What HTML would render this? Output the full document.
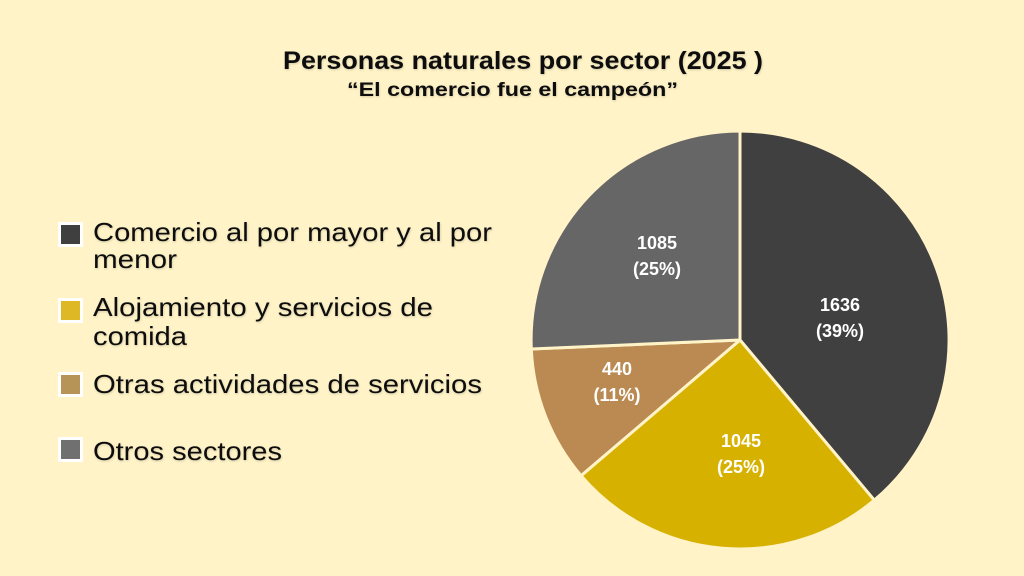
<!DOCTYPE html>
<html>
<head>
<meta charset="utf-8">
<style>
  html,body{margin:0;padding:0;background:#FFF3C7;}
  svg{display:block;}
  .t{font-family:"Liberation Sans",sans-serif;}
</style>
</head>
<body>
<svg width="1024" height="576" viewBox="0 0 1024 576" xmlns="http://www.w3.org/2000/svg">
  <defs>
    <filter id="sh" x="-5%" y="-20%" width="110%" height="140%">
      <feDropShadow dx="0.5" dy="1" stdDeviation="1" flood-color="#000" flood-opacity="0.18"/>
    </filter>
  </defs>
  <rect width="1024" height="576" fill="#FFF3C7"/>

  <!-- Title -->
  <g filter="url(#sh)">
    <text class="t" x="283" y="69" font-size="25" font-weight="bold" fill="#111" textLength="480" lengthAdjust="spacingAndGlyphs">Personas naturales por sector (2025 )</text>
    <text class="t" x="347" y="96" font-size="19" font-weight="bold" fill="#111" textLength="331" lengthAdjust="spacingAndGlyphs">“El comercio fue el campeón”</text>
  </g>

  <!-- Legend -->
  <g>
    <rect x="58" y="222" width="25" height="25" fill="#ffffff"/>
    <rect x="61" y="225" width="19" height="19" fill="#3F3F3F"/>
    <rect x="58" y="298" width="25" height="25" fill="#ffffff"/>
    <rect x="61" y="301" width="19" height="19" fill="#DFB826"/>
    <rect x="58" y="372" width="25" height="25" fill="#ffffff"/>
    <rect x="61" y="375" width="19" height="19" fill="#B69357"/>
    <rect x="58" y="437" width="25" height="25" fill="#ffffff"/>
    <rect x="61" y="440" width="19" height="19" fill="#707070"/>
  </g>
  <g filter="url(#sh)" fill="#111">
    <text class="t" x="93" y="241" font-size="26" textLength="399" lengthAdjust="spacingAndGlyphs">Comercio al por mayor y al por</text>
    <text class="t" x="93" y="268" font-size="26" textLength="84" lengthAdjust="spacingAndGlyphs">menor</text>
    <text class="t" x="93" y="316" font-size="26" textLength="340" lengthAdjust="spacingAndGlyphs">Alojamiento y servicios de</text>
    <text class="t" x="93" y="345" font-size="26" textLength="94" lengthAdjust="spacingAndGlyphs">comida</text>
    <text class="t" x="93" y="393" font-size="26" textLength="389" lengthAdjust="spacingAndGlyphs">Otras actividades de servicios</text>
    <text class="t" x="93" y="460" font-size="26" textLength="189" lengthAdjust="spacingAndGlyphs">Otros sectores</text>
  </g>

  <!-- Pie -->
  <g stroke="#FFF3C7" stroke-width="3" stroke-linejoin="round">
    <path d="M740,340 L740,131 A209,209 0 0 1 874.3,500.2 Z" fill="#404040"/>
    <path d="M740,340 L874.3,500.2 A209,209 0 0 1 581.1,475.7 Z" fill="#D6B100"/>
    <path d="M740,340 L581.1,475.7 A209,209 0 0 1 531.3,349 Z" fill="#BA8A52"/>
    <path d="M740,340 L531.3,349 A209,209 0 0 1 740,131 Z" fill="#666666"/>
  </g>

  <!-- Pie labels -->
  <g class="t" font-size="18" font-weight="bold" fill="#ffffff" text-anchor="middle">
    <text x="840" y="311">1636</text>
    <text x="840" y="337">(39%)</text>
    <text x="657" y="249">1085</text>
    <text x="657" y="275">(25%)</text>
    <text x="617" y="375">440</text>
    <text x="617" y="401">(11%)</text>
    <text x="741" y="447">1045</text>
    <text x="741" y="473">(25%)</text>
  </g>
</svg>
</body>
</html>
